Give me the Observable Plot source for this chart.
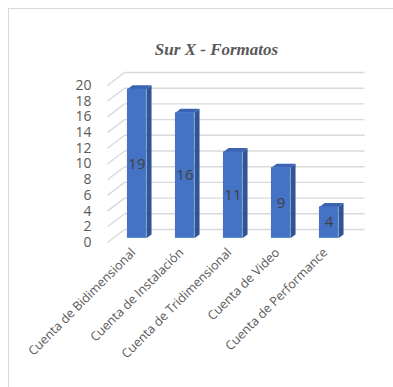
<!DOCTYPE html>
<html><head><meta charset="utf-8">
<script src="https://cdn.jsdelivr.net/npm/d3@7"></script>
<script src="https://cdn.jsdelivr.net/npm/@observablehq/plot@0.6"></script>
<style>
html,body{margin:0;padding:0;background:#fff;}
#wrap{position:relative;width:393px;height:387px;overflow:hidden;}
#border{position:absolute;left:8px;top:8px;width:500px;height:500px;border:1.5px solid #d9d9d9;box-sizing:border-box;}
#chart{position:absolute;left:0;top:0;}
</style></head><body>
<div id="wrap"><div id="border"></div><div id="chart"></div></div>
<script>
const title = "Sur X - Formatos";
const categories = ["Cuenta de Bidimensional", "Cuenta de Instalación", "Cuenta de Tridimensional", "Cuenta de Video", "Cuenta de Performance"];
const values = [19, 16, 11, 9, 4];
const yTicks = [0, 2, 4, 6, 8, 10, 12, 14, 16, 18, 20];

// layout / 3D geometry (pixels)
const W = 393, H = 387;
const mL = 107, mR = 46, mT = 85, mB = 145;
const pxX = (W - mL - mR) / 5;          // px per category
const pxY = (H - mT - mB) / 20;         // px per unit
const DX = 17 / pxX, DY = 13 / pxY;     // full depth vector in data units
const f0 = 0.32, f1 = 0.62, hw = 9.5 / pxX;

const idx = values.map((v, i) => i);
const frontFaces = idx.map(i => ({x1: i - hw + f0 * DX, x2: i + hw + f0 * DX, y1: f0 * DY, y2: values[i] + f0 * DY, v: values[i], i}));
const sideFaces = [], topFaces = [];
for (const d of frontFaces) {
  const s = (f1 - f0);
  sideFaces.push({x: d.x2, y: d.y1, id: d.i}, {x: d.x2, y: d.y2, id: d.i},
            {x: d.x2 + s * DX, y: d.y2 + s * DY, id: d.i}, {x: d.x2 + s * DX, y: d.y1 + s * DY, id: d.i});
  topFaces.push({x: d.x1, y: d.y2, id: d.i}, {x: d.x2, y: d.y2, id: d.i},
           {x: d.x2 + s * DX, y: d.y2 + s * DY, id: d.i}, {x: d.x1 + s * DX, y: d.y2 + s * DY, id: d.i});
}
const grid = yTicks.map(t => ({t}));

const chart = Plot.plot({
  width: W, height: H,
  marginLeft: mL, marginRight: mR, marginTop: mT, marginBottom: mB,
  style: {fontFamily: "Open Sans", background: "transparent", overflow: "visible", color: "#595959"},
  x: {type: "linear", domain: [-0.5, 4.5], axis: null},
  y: {domain: [0, 20], axis: null},
  marks: [
    Plot.link(grid, {x1: -0.5, y1: d => d.t, x2: -0.5 + DX, y2: d => d.t + DY, stroke: "#d9d9d9", strokeWidth: 1.4}),
    Plot.link(grid, {x1: -0.5 + DX, y1: d => d.t + DY, x2: 4.5 + DX, y2: d => d.t + DY, stroke: "#d9d9d9", strokeWidth: 1.4}),
    Plot.axisY({ticks: yTicks, tickSize: 0, tickPadding: 16, fontSize: 14, fill: "#595959", label: null}),
    Plot.axisX({ticks: idx, tickFormat: i => categories[i], tickRotate: -45, tickSize: 0, tickPadding: 8, dx: 2, fontSize: 12.5, fill: "#595959", label: null}),
    Plot.line(sideFaces, {x: "x", y: "y", z: "id", fill: "#2f5597", stroke: null}),
    Plot.line(topFaces, {x: "x", y: "y", z: "id", fill: "#3a64b3", stroke: null}),
    Plot.rect(frontFaces, {x1: "x1", x2: "x2", y1: "y1", y2: "y2", fill: "#4472c4"}),
    Plot.text(frontFaces, {x: d => (d.x1 + d.x2) / 2, y: d => (d.y1 + d.y2) / 2, text: "v", fontSize: 15, fill: "#404040"}),
    Plot.text([title], {frameAnchor: "top", dx: -11, dy: -43, text: d => d, fontFamily: "Liberation Serif", fontWeight: "bold", fontStyle: "italic", fontSize: 17, fill: "#595959"})
  ]
});
document.getElementById("chart").appendChild(chart);
</script>
</body></html>
